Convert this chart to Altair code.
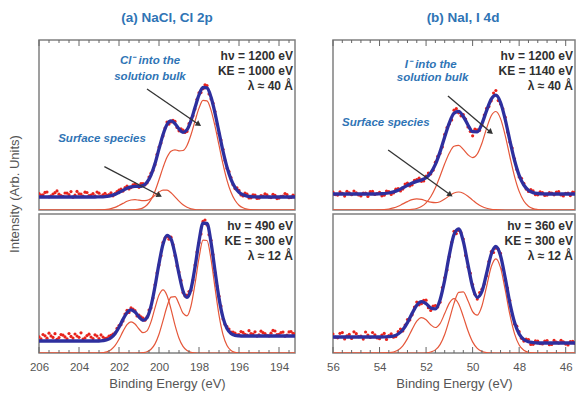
import altair as alt
import pandas as pd

# ---------------- data ----------------
# binding-energy grids (eV)
BE_CL = [206.0, 205.8, 205.6, 205.4, 205.2, 205.0, 204.8, 204.6, 204.4, 204.2,
         204.0, 203.8, 203.6, 203.4, 203.2, 203.0, 202.8, 202.6, 202.4, 202.2,
         202.0, 201.8, 201.6, 201.4, 201.2, 201.0, 200.8, 200.6, 200.4, 200.2,
         200.0, 199.8, 199.6, 199.4, 199.2, 199.0, 198.8, 198.6, 198.4, 198.2,
         198.0, 197.8, 197.6, 197.4, 197.2, 197.0, 196.8, 196.6, 196.4, 196.2,
         196.0, 195.8, 195.6, 195.4, 195.2, 195.0, 194.8, 194.6, 194.4, 194.2,
         194.0, 193.8, 193.6, 193.4, 193.2]
BE_CL_MID = [205.9, 205.7, 205.5, 205.3, 205.1, 204.9, 204.7, 204.5, 204.3, 204.1,
             203.9, 203.7, 203.5, 203.3, 203.1, 202.9, 202.7, 202.5, 202.3, 202.1,
             201.9, 201.7, 201.5, 201.3, 201.1, 200.9, 200.7, 200.5, 200.3, 200.1,
             199.9, 199.7, 199.5, 199.3, 199.1, 198.9, 198.7, 198.5, 198.3, 198.1,
             197.9, 197.7, 197.5, 197.3, 197.1, 196.9, 196.7, 196.5, 196.3, 196.1,
             195.9, 195.7, 195.5, 195.3, 195.1, 194.9, 194.7, 194.5, 194.3, 194.1,
             193.9, 193.7, 193.5, 193.3]
BE_I = [56.0, 55.8, 55.6, 55.4, 55.2, 55.0, 54.8, 54.6, 54.4, 54.2,
        54.0, 53.8, 53.6, 53.4, 53.2, 53.0, 52.8, 52.6, 52.4, 52.2,
        52.0, 51.8, 51.6, 51.4, 51.2, 51.0, 50.8, 50.6, 50.4, 50.2,
        50.0, 49.8, 49.6, 49.4, 49.2, 49.0, 48.8, 48.6, 48.4, 48.2,
        48.0, 47.8, 47.6, 47.4, 47.2, 47.0, 46.8, 46.6, 46.4, 46.2,
        46.0, 45.8, 45.6, 45.4]
BE_I_MID = [55.9, 55.7, 55.5, 55.3, 55.1, 54.9, 54.7, 54.5, 54.3, 54.1,
            53.9, 53.7, 53.5, 53.3, 53.1, 52.9, 52.7, 52.5, 52.3, 52.1,
            51.9, 51.7, 51.5, 51.3, 51.1, 50.9, 50.7, 50.5, 50.3, 50.1,
            49.9, 49.7, 49.5, 49.3, 49.1, 48.9, 48.7, 48.5, 48.3, 48.1,
            47.9, 47.7, 47.5, 47.3, 47.1, 46.9, 46.7, 46.5, 46.3, 46.1,
            45.9, 45.7]

# (a) NaCl, Cl 2p  -- hv = 1200 eV
TL_DATA = [16.5, 15.2, 18.0, 14.1, 17.3, 15.8, 13.6, 16.9, 18.4, 14.8,
           16.2, 13.9, 17.5, 15.0, 14.2, 16.8, 15.1, 14.6, 17.2, 16.3,
           19.8, 18.9, 24.0, 22.4, 25.8, 22.7, 26.3, 27.1, 36.8, 45.2,
           63.0, 74.1, 87.9, 88.0, 88.6, 79.2, 79.8, 78.6, 91.5, 101.0,
           117.2, 121.3, 124.5, 111.0, 98.4, 76.5, 60.7, 41.6, 32.5, 21.4,
           19.6, 14.0, 15.8, 12.2, 14.9, 11.8, 13.9, 15.1, 12.4, 14.6,
           11.9, 13.8, 15.4, 12.6, 14.0]
TL_DATA_MID = [14.9, 17.6, 13.2, 16.0, 19.1, 14.4, 17.0, 15.3, 12.8, 18.6,
               15.9, 17.8, 14.5, 16.4, 18.0, 13.9, 16.7, 15.5, 14.2, 18.3,
               20.9, 22.3, 21.0, 25.1, 24.4, 26.5, 25.2, 32.9, 39.4, 55.6,
               66.9, 82.0, 85.9, 89.6, 82.5, 81.2, 77.6, 86.3, 94.2, 110.7,
               117.4, 125.2, 116.1, 106.8, 85.9, 70.0, 49.4, 38.5, 25.3, 22.1,
               15.0, 16.9, 12.1, 15.2, 11.6, 14.3, 16.2, 12.9, 15.7, 11.4,
               13.6, 16.5, 12.3, 14.8]
TL_FIT = [13, 13, 13, 13, 13, 13, 13, 13, 13, 13,
          13, 13, 13, 13, 13, 13.1, 13.2, 13.6, 14.4, 15.6,
          17.5, 19.6, 21.7, 23.1, 23.6, 23.6, 24.4, 27.7, 34.9, 46.4,
          61.1, 75.3, 85.5, 89.1, 86.4, 81.1, 77.7, 80.2, 89.4, 102.4,
          115.1, 122.6, 122.1, 112.9, 96.9, 77.8, 58.8, 42.7, 30.7, 22.7,
          17.8, 15.2, 13.9, 13.4, 13.1, 13, 13, 13, 13, 13,
          13, 13, 13, 13, 13]
TL_BULK = [0, 0, 0, 0, 0, 0, 0, 0, 0, 0,
           0, 0, 0, 0, 0, 0, 0, 0, 0, 0,
           0, 0, 0, 0.1, 0.3, 0.8, 2.1, 5.0, 10.4, 18.8,
           30.2, 42.4, 52.7, 58.8, 60.2, 59.2, 59.5, 64.5, 75.2, 88.9,
           101.9, 109.6, 109.1, 99.9, 83.9, 64.8, 45.8, 29.7, 17.7, 9.7,
           4.8, 2.2, 0.9, 0.4, 0.1, 0, 0, 0, 0, 0,
           0, 0, 0, 0, 0]
TL_SURF = [0, 0, 0, 0, 0, 0, 0, 0, 0, 0,
           0, 0, 0, 0, 0, 0.1, 0.2, 0.6, 1.4, 2.6,
           4.5, 6.6, 8.7, 10.0, 10.3, 9.8, 9.3, 9.7, 11.5, 14.6,
           17.9, 19.9, 19.8, 17.3, 13.2, 8.9, 5.2, 2.7, 1.2, 0.5,
           0.2, 0, 0, 0, 0, 0, 0, 0, 0, 0,
           0, 0, 0, 0, 0, 0, 0, 0, 0, 0,
           0, 0, 0, 0, 0]

# (a) NaCl, Cl 2p  -- hv = 490 eV
BL_DATA = [16.2, 18.5, 14.8, 17.1, 19.3, 15.4, 17.8, 14.2, 16.6, 19.0,
           15.7, 13.9, 17.4, 16.0, 18.2, 14.5, 15.9, 15.0, 17.6, 20.1,
           27.4, 32.0, 42.6, 45.1, 42.3, 37.8, 34.9, 36.1, 45.0, 68.2,
           88.1, 110.6, 116.4, 115.8, 97.3, 80.9, 60.4, 57.8, 62.5, 87.9,
           110.2, 131.6, 128.1, 112.7, 80.5, 56.8, 34.0, 26.3, 20.8, 19.9,
           18.4, 20.6, 17.9, 19.5, 21.2, 18.1, 20.3, 17.4, 19.8, 22.0,
           18.6, 20.9, 17.8, 21.5, 19.2]
BL_DATA_MID = [14.1, 17.2, 19.8, 15.6, 13.7, 18.4, 16.1, 19.5, 14.9, 17.0,
               20.2, 15.1, 18.8, 14.4, 16.9, 18.1, 14.6, 16.8, 18.9, 24.6,
               28.3, 38.9, 40.5, 44.0, 37.1, 36.2, 32.8, 42.9, 55.0, 80.1,
               97.2, 114.9, 113.8, 108.4, 87.1, 72.6, 57.1, 61.5, 73.0, 100.9,
               119.1, 133.0, 118.3, 98.5, 66.9, 47.0, 28.4, 23.9, 21.0, 18.2,
               21.4, 18.7, 22.3, 19.0, 16.9, 21.8, 19.4, 17.1, 22.6, 18.3,
               20.5, 16.8, 21.1, 19.6]
BL_FIT = [12, 12, 12, 12, 12, 12, 12, 12, 12, 12,
          12, 12, 12, 12, 12, 12, 12.4, 13.2, 15.2, 19.3,
          25.7, 33.6, 40.3, 43.2, 41.0, 36.1, 32.7, 35.3, 46.8, 66.5,
          89.4, 108.7, 117.7, 114.0, 99.0, 79.0, 62.0, 55.6, 64.0, 85.8,
          111.8, 129.8, 129.5, 110.8, 82.3, 54.9, 35.4, 24.4, 19.5, 17.7,
          17.2, 17, 17, 17, 17, 17, 17, 17, 17, 17,
          17, 17, 17, 17, 17]
BL_BULK = [0, 0, 0, 0, 0, 0, 0, 0, 0, 0,
           0, 0, 0, 0, 0, 0, 0, 0, 0, 0,
           0, 0, 0, 0, 0, 0.1, 0.35, 1.2, 3.7, 9.1,
           18.8, 32.4, 46.5, 55.9, 56.4, 49.0, 39.8, 37.2, 47.0, 69.0,
           95.0, 112.8, 112.5, 93.8, 65.3, 37.9, 18.4, 7.4, 2.5, 0.7,
           0.2, 0, 0, 0, 0, 0, 0, 0, 0, 0,
           0, 0, 0, 0, 0]
BL_SURF = [0, 0, 0, 0, 0, 0, 0, 0, 0, 0,
           0, 0, 0, 0, 0, 0, 0.4, 1.2, 3.2, 7.3,
           13.7, 21.6, 28.3, 31.2, 29.0, 24.0, 20.3, 22.1, 31.1, 45.1,
           57.9, 63.1, 57.5, 43.9, 27.9, 14.8, 6.6, 2.4, 0.7, 0.2,
           0, 0, 0, 0, 0, 0, 0, 0, 0, 0,
           0, 0, 0, 0, 0, 0, 0, 0, 0, 0,
           0, 0, 0, 0, 0]

# (b) NaI, I 4d  -- hv = 1200 eV
TR_DATA = [17.8, 14.9, 16.6, 18.7, 15.3, 17.2, 14.1, 16.9, 18.3, 15.6,
           17.7, 14.8, 18.4, 17.0, 21.5, 20.9, 26.8, 25.2, 30.4, 28.7,
           33.9, 36.0, 47.8, 56.4, 75.6, 86.1, 99.8, 97.2, 95.4, 83.1,
           74.2, 80.1, 84.9, 101.6, 109.2, 119.5, 106.0, 92.8, 68.1, 51.2,
           33.0, 26.7, 18.5, 19.1, 15.2, 17.4, 14.9, 16.8, 18.0, 15.1,
           16.7, 14.4, 17.6, 15.9]
TR_DATA_MID = [15.4, 18.2, 13.9, 17.1, 19.0, 15.0, 16.8, 13.5, 18.6, 16.3,
               14.2, 18.9, 15.6, 20.8, 19.1, 25.9, 24.0, 29.6, 31.8, 29.0,
               36.9, 39.8, 53.6, 63.0, 82.5, 90.1, 101.3, 94.2, 91.0, 78.5,
               80.8, 79.6, 95.0, 103.4, 116.9, 109.4, 101.2, 78.0, 61.9, 40.6,
               31.7, 20.9, 20.4, 15.3, 18.1, 14.6, 17.5, 15.2, 18.3, 14.0,
               16.9, 17.8]
TR_FIT = [16, 16, 16, 16, 16, 16, 16, 16, 16, 16,
          16.2, 16.4, 17.0, 18.1, 19.8, 22.2, 24.6, 26.9, 28.6, 30.0,
          32.2, 37.1, 45.6, 58.1, 73.1, 87.2, 96.7, 98.6, 93.5, 85.0,
          78.3, 78.2, 86.3, 99.3, 110.9, 114.8, 107.5, 90.7, 69.5, 49.7,
          34.6, 25.0, 19.8, 17.4, 16.5, 16.1, 16, 16, 16, 16,
          16, 16, 16, 16]
TR_BULK = [0, 0, 0, 0, 0, 0, 0, 0, 0, 0,
           0, 0, 0, 0, 0, 0.1, 0.2, 0.6, 1.5, 3.4,
           7.1, 13.3, 22.3, 33.8, 46.2, 57.0, 63.7, 64.6, 60.7, 55.2,
           52.4, 56.0, 66.8, 81.6, 94.2, 98.5, 91.4, 74.7, 53.5, 33.7,
           18.6, 9.0, 3.8, 1.4, 0.5, 0.1, 0, 0, 0, 0,
           0, 0, 0, 0]
TR_SURF = [0, 0, 0, 0, 0, 0, 0, 0, 0, 0,
           0.2, 0.4, 1.0, 2.1, 3.8, 6.1, 8.4, 10.3, 11.1, 10.6,
           9.1, 7.8, 7.3, 8.3, 10.9, 14.2, 17.0, 18.0, 16.8, 13.8,
           9.9, 6.2, 3.5, 1.7, 0.7, 0.3, 0.1, 0, 0, 0,
           0, 0, 0, 0, 0, 0, 0, 0, 0, 0,
           0, 0, 0, 0]

# (b) NaI, I 4d  -- hv = 360 eV
BR_DATA = [18.9, 15.2, 20.4, 17.1, 14.6, 19.3, 16.8, 21.0, 15.5, 18.2,
           14.3, 19.6, 17.4, 15.8, 21.3, 22.0, 33.5, 38.2, 50.9, 49.3,
           52.8, 42.6, 47.5, 50.8, 75.2, 96.4, 121.7, 122.5, 113.9, 86.0,
           68.4, 53.9, 63.8, 77.2, 101.3, 104.8, 99.6, 73.0, 52.4, 28.9,
           21.3, 11.9, 13.5, 8.7, 11.8, 9.1, 12.4, 8.5, 10.9, 12.7,
           8.9, 11.3, 9.6, 12.0]
BR_DATA_MID = [15.8, 19.7, 14.1, 18.6, 21.2, 16.3, 13.9, 18.0, 20.5, 15.0,
               17.9, 13.6, 19.2, 16.4, 24.0, 27.9, 33.1, 45.9, 48.2, 52.7,
               45.3, 46.8, 46.1, 65.5, 83.0, 110.6, 119.4, 120.3, 97.6, 79.8,
               58.7, 60.5, 68.9, 91.4, 100.5, 104.0, 84.1, 64.9, 38.2, 26.8,
               14.7, 13.9, 8.6, 12.1, 9.4, 11.9, 8.3, 12.6, 9.9, 11.2,
               8.1, 11.7]
BR_FIT = [16, 16, 16, 16, 16, 16, 16, 16, 16, 16,
          16.0, 16.1, 16.3, 17.0, 19.0, 23.2, 30.4, 39.6, 47.8, 51.4,
          49.4, 45.0, 44.1, 53.1, 72.9, 98.1, 118.4, 124.0, 111.6, 88.3,
          66.0, 55.7, 61.5, 79.6, 98.8, 106.5, 97.3, 75.1, 50.1, 30.7,
          19.0, 13.5, 11.2, 10.4, 10.0, 10, 10, 10, 10, 10,
          10, 10, 10, 10]
BR_BULK = [0, 0, 0, 0, 0, 0, 0, 0, 0, 0,
           0, 0, 0, 0, 0, 0, 0, 0, 0, 0,
           0.2, 1.0, 3.1, 8.4, 18.5, 33.4, 49.6, 60.7, 61.2, 52.3,
           41.4, 37.9, 47.0, 66.4, 86.2, 94.2, 85.3, 63.3, 38.6, 19.4,
           8.0, 2.7, 0.7, 0.2, 0, 0, 0, 0, 0, 0,
           0, 0, 0, 0]
BR_SURF = [0, 0, 0, 0, 0, 0, 0, 0, 0, 0,
           0, 0.1, 0.3, 1.0, 3.0, 7.2, 14.4, 23.6, 31.8, 35.4,
           33.2, 28.2, 25.5, 29.4, 39.4, 49.9, 54.3, 49.0, 36.4, 22.2,
           11.1, 4.6, 1.5, 0.4, 0.1, 0, 0, 0, 0, 0,
           0, 0, 0, 0, 0, 0, 0, 0, 0, 0,
           0, 0, 0, 0]

# axis tick values
CL_MAJOR = [206, 204, 202, 200, 198, 196, 194]
CL_MINOR = [205.5, 205, 204.5, 203.5, 203, 202.5, 201.5, 201, 200.5, 199.5,
            199, 198.5, 197.5, 197, 196.5, 195.5, 195, 194.5, 193.5]
I_MAJOR = [56, 54, 52, 50, 48, 46]
I_MINOR = [55.6, 55.2, 54.8, 54.4, 53.6, 53.2, 52.8, 52.4, 51.6, 51.2,
           50.8, 50.4, 49.6, 49.2, 48.8, 48.4, 47.6, 47.2, 46.8, 46.4]

# annotation text
INFO_TL = ["hν = 1200 eV", "KE = 1000 eV", "λ ≈ 40 Å"]
INFO_BL = ["hν = 490 eV", "KE = 300 eV", "λ ≈ 12 Å"]
INFO_TR = ["hν = 1200 eV", "KE = 1140 eV", "λ ≈ 40 Å"]
INFO_BR = ["hν = 360 eV", "KE = 300 eV", "λ ≈ 12 Å"]

# ---------------- style ----------------
FONT = "Liberation Sans"
RED_DOT = "#e8231c"
RED_LINE = "#e5573a"
BLUE = "#2e2f9e"
LABEL_BLUE = "#2f74b5"
FRAME = "#808080"
TEXT = "#303030"
GREY = "#555555"

CL_DOM = [193.2, 206.0]
I_DOM = [45.6, 56.0]
W_L, W_R = 256, 242
H_TOP, H_BOT = 170, 139          # drawn heights (px)
Y_TOP, Y_BOT = 170, 139          # intensity ranges (arb. units)


def panel(be, data, be_mid, data_mid, fit, bulk, surf, dom, w, h, ymax, tmaj, tmin,
          top, info, info_y, labels=None, arrows=None, title=None, ytitle=False):
    df = pd.DataFrame({"be": be, "data": data, "fit": fit, "bulk": bulk, "surf": surf})
    dm = pd.DataFrame({"be": be_mid, "data": data_mid})
    xs = alt.Scale(domain=dom, reverse=True, nice=False, zero=False)
    ys = alt.Scale(domain=[0, ymax], nice=False, zero=False)
    if top:
        xaxis = None
    else:
        xaxis = alt.Axis(values=tmaj, format="d", ticks=False, tickSize=0, domain=False,
                         grid=False, labelFlush=False, labelOverlap=False,
                         labelFontSize=11.5, labelColor=GREY, labelFont=FONT,
                         labelPadding=8, title="Binding Energy (eV)",
                         titleFontSize=13, titleColor=GREY, titleFont=FONT,
                         titleFontWeight="normal", titlePadding=5)
    X = alt.X("be:Q", scale=xs, axis=xaxis)

    def Y(f):
        return alt.Y(f, type="quantitative", scale=ys, axis=None)

    base = alt.Chart(df)
    layers = [
        base.mark_line(color=RED_LINE, strokeWidth=1.2, interpolate="monotone",
                       clip=True).encode(x=X, y=Y("bulk")),
        base.mark_line(color=RED_LINE, strokeWidth=1.2, interpolate="monotone",
                       clip=True).encode(x=X, y=Y("surf")),
        base.mark_circle(size=10, color=RED_DOT, opacity=1, clip=True).encode(x=X, y=Y("data")),
        alt.Chart(dm).mark_circle(size=10, color=RED_DOT, opacity=1, clip=True).encode(
            x=X, y=Y("data")),
        base.mark_line(color=BLUE, strokeWidth=3.3, interpolate="monotone",
                       clip=True).encode(x=X, y=Y("fit")),
    ]
    # inward ticks
    tvals = list(tmin) + list(tmaj)
    tlen = [3] * len(tmin) + [6] * len(tmaj)
    if top:
        y0 = [ymax] * len(tvals)
        y1 = [ymax - L for L in tlen]
    else:
        y0 = [0] * len(tvals)
        y1 = list(tlen)
    tk = pd.DataFrame({"be": tvals, "y0": y0, "y1": y1})
    layers.append(alt.Chart(tk).mark_rule(color="#666666", strokeWidth=1).encode(
        x=X, y=Y("y0"), y2="y1:Q"))
    # photon energy info
    layers.append(alt.Chart(pd.DataFrame({"k": [0]})).mark_text(
        align="right", baseline="top", fontSize=12, fontWeight="bold", color=TEXT,
        font=FONT, lineHeight=15).encode(
        x=alt.value(w - 2), y=alt.value(info_y), text=alt.value(info)))
    if labels is not None:
        ldf = pd.DataFrame(labels, columns=["be", "yv", "txt"])
        layers.append(alt.Chart(ldf).mark_text(
            fontSize=11.5, fontWeight="bold", fontStyle="italic", color=LABEL_BLUE,
            font=FONT).encode(x=X, y=Y("yv"), text="txt:N"))
    if arrows is not None:
        adf = pd.DataFrame(arrows, columns=["be", "yv", "be2", "yv2", "ang"])
        layers.append(alt.Chart(adf).mark_rule(color="#333333", strokeWidth=1.3).encode(
            x=X, y=Y("yv"), x2="be2:Q", y2="yv2:Q"))
        hdf = pd.DataFrame({"be": adf["be2"], "yv": adf["yv2"], "ang": adf["ang"]})
        layers.append(alt.Chart(hdf).mark_point(
            shape="triangle", filled=True, size=40, color="#333333", opacity=1).encode(
            x=X, y=Y("yv"), angle=alt.Angle("ang:Q", scale=None)))
    if ytitle:
        layers.append(alt.Chart(pd.DataFrame({"k": [0]})).mark_text(
            angle=270, fontSize=13, color=GREY, font=FONT, align="center",
            baseline="middle").encode(
            x=alt.value(-24), y=alt.value(154), text=alt.value("Intensity (Arb. Units)")))
    ch = alt.layer(*layers).properties(width=w, height=h)
    if title is not None:
        ch = ch.properties(title=title)
    return ch


def col_title(txt, dx=0):
    return alt.TitleParams(text=txt, fontSize=13.5, fontWeight="bold", color=LABEL_BLUE,
                           font=FONT, anchor="middle", offset=15, dx=dx)


tl = panel(BE_CL, TL_DATA, BE_CL_MID, TL_DATA_MID, TL_FIT, TL_BULK, TL_SURF, CL_DOM,
           W_L, H_TOP, Y_TOP, CL_MAJOR, CL_MINOR, True, INFO_TL, 11,
           labels=[[200.45, 149, "Cl⁻ into the"], [200.45, 133, "solution bulk"],
                   [202.85, 71, "Surface species"]],
           arrows=[[200.6, 121, 198.05, 86, 123.6], [202.73, 43.3, 200.02, 15, 117.5]],
           title=col_title("(a) NaCl, Cl 2p"), ytitle=True)
bl = panel(BE_CL, BL_DATA, BE_CL_MID, BL_DATA_MID, BL_FIT, BL_BULK, BL_SURF, CL_DOM,
           W_L, H_BOT, Y_BOT, CL_MAJOR, CL_MINOR, False, INFO_BL, 6.5)
tr = panel(BE_I, TR_DATA, BE_I_MID, TR_DATA_MID, TR_FIT, TR_BULK, TR_SURF, I_DOM,
           W_R, H_TOP, Y_TOP, I_MAJOR, I_MINOR, True, INFO_TR, 11,
           labels=[[51.8, 145, "I⁻ into the"], [51.72, 132, "solution bulk"],
                   [53.73, 87, "Surface species"]],
           arrows=[[51.06, 114, 49.25, 78.3, 130.1], [53.63, 60, 50.99, 15.7, 125.7]],
           title=col_title("(b) NaI, I 4d", dx=9))
br = panel(BE_I, BR_DATA, BE_I_MID, BR_DATA_MID, BR_FIT, BR_BULK, BR_SURF, I_DOM,
           W_R, H_BOT, Y_BOT, I_MAJOR, I_MINOR, False, INFO_BR, 6.5)

chart = alt.concat(tl, tr, bl, br, columns=2,
                   spacing=alt.RowColnumber(row=4, column=38),
                   bounds="flush", align="each").properties(
    padding={"left": 0, "top": 2, "right": 0, "bottom": 0}
).configure(font=FONT).configure_view(stroke=FRAME, strokeWidth=1.5)

chart.save("out.html", embed_options={"renderer": "svg", "actions": False})
